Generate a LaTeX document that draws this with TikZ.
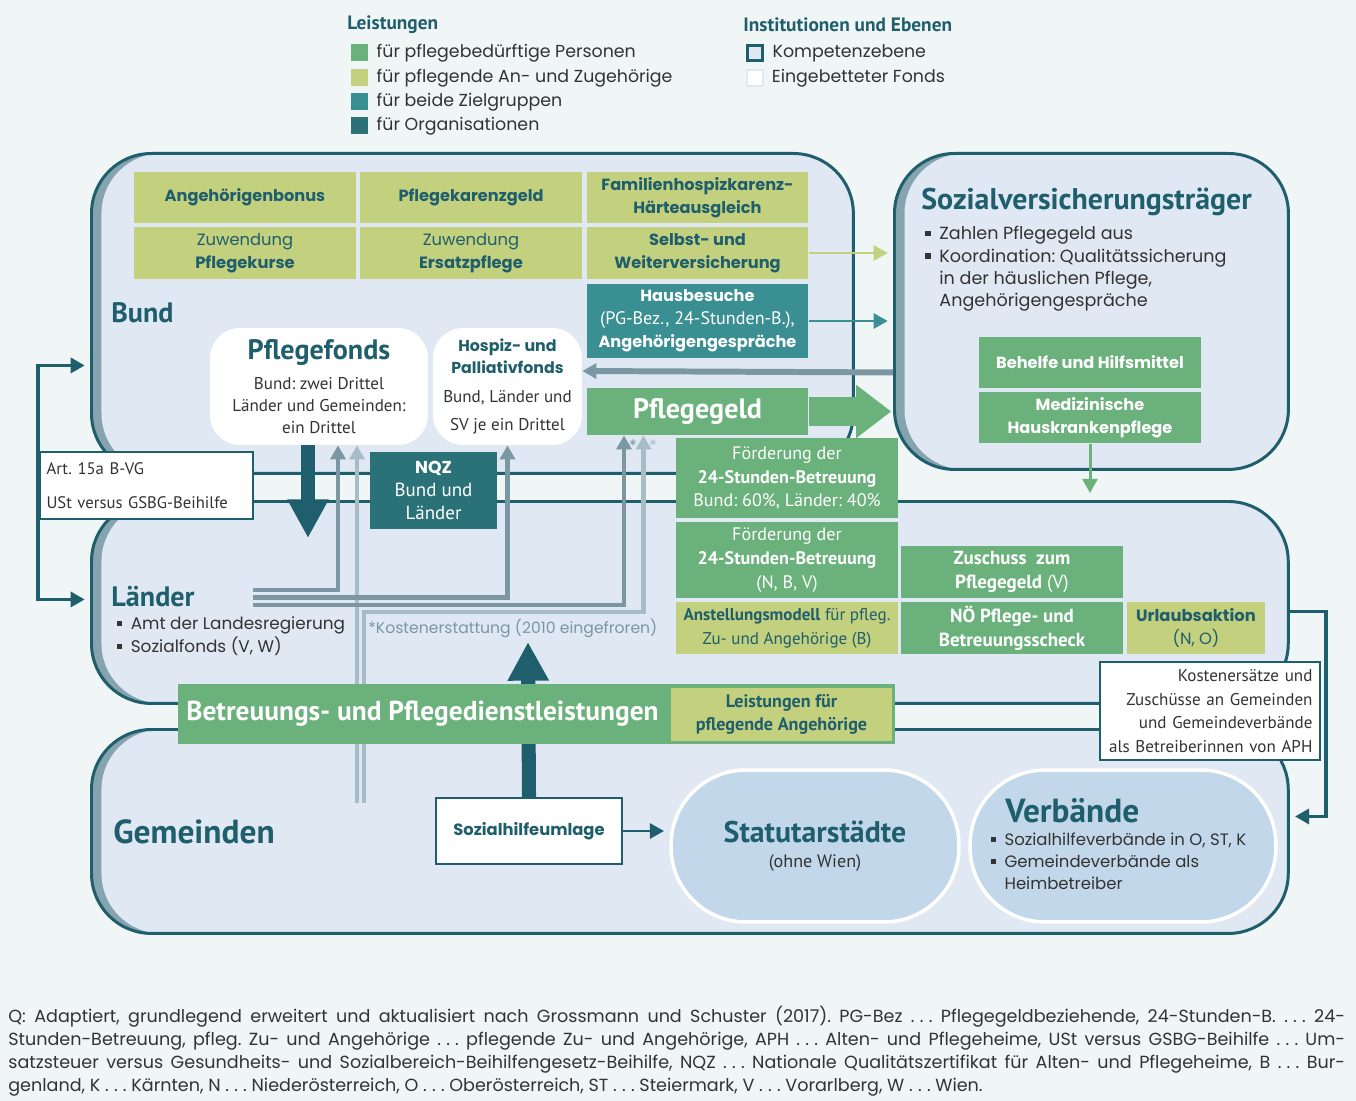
\documentclass[tikz,border=0pt]{standalone}
\usepackage{fontspec}
\setmainfont{Poppins}
\newfontfamily\tw{PT Sans}
\usepackage{tikz}
\usetikzlibrary{arrows.meta,positioning}

\definecolor{bgc}{RGB}{240,245,245}
\definecolor{pfill}{RGB}{223,232,243}
\definecolor{strip}{RGB}{134,163,176}
\definecolor{dteal}{RGB}{31,94,108}
\definecolor{cgrn}{RGB}{106,177,123}
\definecolor{cyel}{RGB}{195,208,126}
\definecolor{cmid}{RGB}{58,143,147}
\definecolor{corg}{RGB}{43,114,120}
\definecolor{gline}{RGB}{123,151,163}
\definecolor{lline}{RGB}{168,188,198}
\definecolor{cfill}{RGB}{194,215,233}
\definecolor{txt}{RGB}{51,51,51}

\newcommand\BW{4.44cm}
\newcommand\BH{1.03cm}
\newcommand\sq{\rule[0.2em]{0.3em}{0.3em}}
\newcommand\qdots{.\kern0.3em.\kern0.3em.}
\newcommand\fbx{\fontsize{9.2}{13}\selectfont\bfseries}
\newcommand\frg{\fontsize{9.3}{13}\selectfont}
\newcommand\htl{\rmfamily\fontsize{9}{16.5}\selectfont\bfseries\color{dteal}}
\newenvironment{blist}{\begin{tabular}{@{}l@{\hspace{0.5em}}l@{}}}{\end{tabular}}

\begin{document}
\frenchspacing
\begin{tikzpicture}[x=0.02cm,y=-0.02cm,>={Triangle[length=8pt,width=8.5pt]},
                    inner sep=0pt,align=center,text=txt]

  \tikzstyle{box}=[minimum width=\BW,minimum height=\BH]
  \tikzstyle{yel}=[box,fill=cyel,text=dteal]
  \tikzstyle{grn}=[box,fill=cgrn,text=white]
  \tikzstyle{panel}=[anchor=north west,draw=dteal,line width=1.7pt,fill=strip,rounded corners=1.2cm,
    path picture={\fill[pfill,rounded corners=1.2cm] ([xshift=0.2cm]path picture bounding box.south west)
      rectangle ([xshift=0.2cm]path picture bounding box.north east);}]
  \tikzstyle{fonds}=[fill=white,rounded corners=0.6cm]
  \tikzstyle{note}=[draw=dteal,line width=0.7pt,fill=white]
  \tikzstyle{city}=[fill=cfill,draw=white,line width=2pt,rounded corners=1.5cm,minimum height=3.04cm]
  \tikzstyle{lab}=[anchor=west,text=dteal,font=\tw\bfseries\fontsize{16}{16}\selectfont]
  \tikzstyle{legtxt}=[font=\fontsize{9.9}{12}\selectfont]
  \tikzstyle{leghd}=[anchor=west,text=dteal,font=\tw\bfseries\fontsize{11}{12}\selectfont]
  \tikzstyle{conn}=[->,draw=dteal,line width=1.7pt]
  \tikzstyle{garr}=[->,draw=gline,line width=2.6pt]
  \tikzstyle{larr}=[->,draw=lline,line width=2.6pt]
  \tikzstyle{fat}=[draw=dteal,line width=8pt,-{Triangle[length=22pt,width=22pt]}]

  \fill[bgc] (0,0) rectangle (1356,1101);
  \useasboundingbox (0,0) rectangle (1356,1101);

  % Legende
  \node[leghd] (leghd) at (347,25) {Leistungen};
  \foreach \col/\lbl/\yy/\nm in {cgrn/für pflegebedürftige Personen/53/a,cyel/für pflegende An- und Zugehörige/78/b,
                                 cmid/für beide Zielgruppen/102/c,corg/für Organisationen/126/d}{
    \node[fill=\col,minimum size=0.34cm] (sq\nm) at (359,\yy) {};
    \node[legtxt,right=0.17cm of sq\nm] (lt\nm) {\lbl};
  }
  \node[leghd] (insthd) at (743,25) {Institutionen und Ebenen};
  \node[draw=dteal,line width=1.4pt,fill=pfill,minimum size=0.3cm] (sqk) at (755,53) {};
  \node[legtxt,right=0.17cm of sqk] (ltk) {Kompetenzebene};
  \node[draw=pfill,line width=0.6pt,fill=white,minimum size=0.32cm] (sqe) at (755,78) {};
  \node[legtxt,right=0.16cm of sqe] (lte) {Eingebetteter Fonds};

  % Ebenen
  \node[panel,minimum width=15.24cm,minimum height=6.4cm] (bund) at (90,152) {};
  \node[panel,minimum width=7.88cm,minimum height=6.32cm] (sv) at (893,152) {};
  \node[panel,minimum width=23.94cm,minimum height=4.04cm] (laender) at (90,500) {};
  \node[panel,minimum width=23.94cm,minimum height=4.08cm] (gem) at (90,728) {};

  \draw[<->,dteal,line width=2.2pt,shorten <=3pt,shorten >=3pt]
    ([yshift=-1.04cm]bund.west) -- ++(-52,0) |- ([yshift=0.06cm]laender.west);
  \node[note,minimum width=4.26cm,minimum height=1.34cm,text width=4.0cm,align=left,
        font=\tw\fontsize{9.5}{19}\selectfont] (art) at (146.5,485.5) {Art. 15a B-VG\\USt versus GSBG-Beihilfe};

  % Bund
  \node[lab] (bundlab) at (111,313) {Bund};
  \node[yel,font=\fbx] (ang) at (245,197.5) {Angehörigenbonus};
  \node[yel,font=\fbx] (pkg) at (471,197.5) {Pflegekarenzgeld};
  \node[yel,font=\fbx] (fhk) at (697.5,197.5) {Familienhospizkarenz-\\Härteausgleich};
  \node[yel,font=\frg] (zpk) at (245,253) {Zuwendung\\\textbf{Pflegekurse}};
  \node[yel,font=\frg] (zep) at (471,253) {Zuwendung\\\textbf{Ersatzpflege}};
  \node[yel,font=\fbx] (swv) at (697.5,253) {Selbst- und\\Weiterversicherung};
  \node[box,fill=cmid,text=white,minimum height=1.48cm,font=\fbx] (haus) at (697.5,321)
    {Hausbesuche\\{\tw\mdseries\fontsize{10.3}{13}\selectfont (PG-Bez., 24-Stunden-B.),}\\Angehörigengespräche};
  \node[grn,minimum height=0.94cm,font=\tw\bfseries\fontsize{16}{16}\selectfont] (pg) at (697.5,411.5) {Pflegegeld};

  \node[fonds,minimum width=4.36cm,minimum height=2.34cm,font=\tw\fontsize{9.7}{12.5}\selectfont] (pf) at (319,386.5)
    {{\fontsize{16}{16}\selectfont\bfseries\color{dteal}Pflegefonds}\\[5pt]Bund: zwei Drittel\\Länder und Gemeinden:\\ein Drittel};
  \node[fonds,minimum width=2.98cm,minimum height=2.34cm,font=\tw\fontsize{9.7}{16.5}\selectfont] (hosp) at (507.5,386.5)
    {{\htl Hospiz- und}\\[-4pt]{\htl Palliativfonds}\\Bund, Länder und\\SV je ein Drittel};

  % SV
  \node[anchor=west,text=dteal,font=\tw\bfseries\fontsize{17}{17}\selectfont] (svhd) at (921,202) {Sozialversicherungsträger};
  \node[anchor=north west,font=\fontsize{10}{12.7}\selectfont] (svtx) at (925,224)
    {\begin{blist}\sq&Zahlen Pflegegeld aus\\\sq&Koordination: Qualitätssicherung\\&in der häuslichen Pflege,\\&Angehörigengespräche\end{blist}};
  \node[grn,font=\fbx] (beh) at (1090,362.5) {Behelfe und Hilfsmittel};
  \node[grn,font=\fbx] (med) at (1090,417.5) {Medizinische\\Hauskrankenpflege};

  \draw[->,cyel,line width=1.7pt,shorten >=3pt] (swv.east) -- (swv.east -| sv.west);
  \draw[->,cmid,line width=1.7pt,shorten >=3pt] (haus.east) -- (haus.east -| sv.west);
  \draw[->,gline,line width=3.4pt] ([yshift=-1.22cm]sv.west) -- ([yshift=0.31cm]hosp.east);
  \draw[cgrn,line width=16pt,-{Triangle[length=20pt,width=29pt]},shorten >=1pt] (pg.east) -- (pg.east -| sv.west);
  \draw[->,cgrn,line width=1.7pt,shorten >=4pt] (med.south) -- (med.south |- laender.north);

  \node[box,fill=corg,text=white,minimum width=2.54cm,minimum height=1.54cm,font=\tw\fontsize{10.8}{13.3}\selectfont] (nqz) at (433.5,490.5)
    {{\rmfamily\bfseries\fontsize{9.8}{13.3}\selectfont NQZ}\\Bund und\\Länder};
  \node[grn,minimum height=1.6cm,font=\tw\fontsize{10.3}{13.6}\selectfont] (f24a) at (787,478)
    {Förderung der\\\textbf{24-Stunden-Betreuung}\\Bund: 60\%, Länder: 40\%};

  % Laender
  \node[lab] (ldrlab) at (111,597) {Länder};
  \node[anchor=north west,font=\fontsize{9.6}{12.5}\selectfont] (ldrtx) at (117,614)
    {\begin{blist}\sq&Amt der Landesregierung\\\sq&Sozialfonds (V, W)\end{blist}};
  \node[grn,minimum height=1.52cm,font=\tw\fontsize{10.3}{13.6}\selectfont] (f24b) at (787,560)
    {Förderung der\\\textbf{24-Stunden-Betreuung}\\(N, B, V)};
  \node[grn,font=\tw\bfseries\fontsize{10.8}{13.6}\selectfont] (zus) at (1012,572) {Zuschuss\ \ zum\\Pflegegeld \textmd{(V)}};
  \node[yel,font=\tw\fontsize{9.7}{13.6}\selectfont] (ans) at (787,628) {\textbf{Anstellungsmodell} für pfleg.\\Zu- und Angehörige (B)};
  \node[grn,font=\tw\bfseries\fontsize{10.8}{13.6}\selectfont] (noe) at (1012,628) {NÖ Pflege- und\\Betreuungsscheck};
  \node[yel,minimum width=2.76cm,font=\frg] (url) at (1196,628) {\textbf{Urlaubsaktion}\\(N, O)};

  \node[anchor=west,text=gline,font=\fontsize{8.9}{10}\selectfont] (koer) at (368,628) {*Kostenerstattung (2010 eingefroren)};

  % Gemeinden
  \node[lab,font=\tw\bfseries\fontsize{19}{19}\selectfont] (gemlab) at (113,832) {Gemeinden};
  \node[note,minimum width=3.72cm,minimum height=1.32cm,text=dteal,font=\fontsize{9.3}{10}\selectfont\bfseries] (shu) at (529,831) {Sozialhilfeumlage};
  \node[city,minimum width=5.76cm,font=\tw\fontsize{10.3}{14}\selectfont] (stadt) at (815,846)
    {{\bfseries\fontsize{17}{17}\selectfont\color{dteal}Statutarstädte}\\(ohne Wien)};
  \node[city,minimum width=6.12cm] (verb) at (1123,846) {};
  \node[anchor=west,text=dteal,font=\tw\bfseries\fontsize{19}{19}\selectfont] (verbhd) at (1005,811) {Verbände};
  \node[anchor=north west,font=\fontsize{9.4}{12.5}\selectfont] (verbtx) at (991,830)
    {\begin{blist}\sq&Sozialhilfeverbände in O, ST, K\\\sq&Gemeindeverbände als\\&Heimbetreiber\end{blist}};
  \draw[conn,shorten >=3pt] (shu.east) -- (shu.east -| stadt.west);

  % Finanzierungsstroeme
  \coordinate (ls1) at (253,590);
  \coordinate (ls2) at (253,597.5);
  \coordinate (ls3) at (253,605);
  \coordinate (gm1) at (357,803);
  \coordinate (gm2) at (364,803);
  \coordinate (pfdn) at (308,538);
  \coordinate (upt) at (528,642);
  \draw[larr] (gm1) -- (gm1 |- pf.south);
  \draw[larr] (gm2) -- ++(0,-191) -| ([xshift=-1.08cm]pg.south);
  \draw[garr] (ls1) -| ([xshift=0.38cm]pf.south);
  \draw[garr] (ls2) -| (hosp.south);
  \draw[garr] (ls3) -| ([xshift=-1.47cm]pg.south);
  \node[text=gline,font=\fontsize{9}{9}\selectfont] (ast1) at (633,446) {*};
  \node[text=lline,font=\fontsize{9}{9}\selectfont] (ast2) at (653,446) {*};
  \draw[fat] (pf.south -| pfdn) -- (pfdn);
  \draw[fat] (shu.north) -- (upt);

  \node[fill=cgrn,minimum width=14.34cm,minimum height=1.2cm] (bar) at (536.5,714) {};
  \node[anchor=west,text=white,font=\tw\bfseries\fontsize{15.6}{15.6}\selectfont] (bartx) at (186,714) {Betreuungs- und Pflegedienstleistungen};
  \node[yel,minimum height=1.06cm,font=\tw\bfseries\fontsize{10.3}{13.4}\selectfont] (lpa) at (781.5,714.5) {Leistungen für\\pflegende Angehörige};

  \draw[conn,line width=2.2pt,shorten >=3pt] ([yshift=-0.18cm]laender.east) -- ++(36,0) |- ([yshift=0.3cm]gem.east);
  \node[note,minimum width=4.4cm,minimum height=1.96cm,text width=4.1cm,align=right,
        font=\tw\fontsize{9.7}{13.4}\selectfont] (kost) at (1210,711)
    {Kostenersätze und\\Zuschüsse an Gemeinden\\und Gemeindeverbände\\als Betreiberinnen von APH};

  % Quelle
  \node[anchor=north west,text width=26.74cm,align=justify,font=\fontsize{10}{13}\selectfont] (quelle) at (8,1006)
    {Q: Adaptiert, grundlegend erweitert und aktualisiert nach Grossmann und Schuster (2017). PG-Bez \qdots{} Pflegegeldbeziehende, 24-Stunden-B. \qdots{} 24-\linebreak
     Stunden-Betreuung, pfleg. Zu- und Angehörige \qdots{} pflegende Zu- und Angehörige, APH \qdots{} Alten- und Pflegeheime, USt versus GSBG-Beihilfe \qdots{} Um-\linebreak
     satzsteuer versus Gesundheits- und Sozialbereich-Beihilfengesetz-Beihilfe, NQZ \qdots{} Nationale Qualitätszertifikat für Alten- und Pflegeheime, B \qdots{} Bur-\linebreak
     genland, K \qdots{} Kärnten, N \qdots{} Niederösterreich, O \qdots{} Oberösterreich, ST \qdots{} Steiermark, V \qdots{} Vorarlberg, W \qdots{} Wien.};
\end{tikzpicture}
\end{document}
